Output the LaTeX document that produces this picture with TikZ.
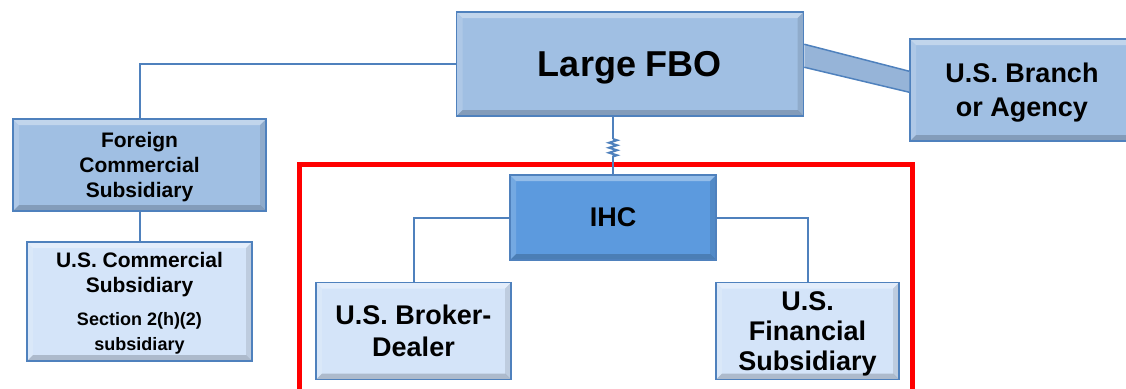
\documentclass[tikz,border=0pt]{standalone}
\usepackage{fontspec}
\setmainfont{Liberation Sans}
\usetikzlibrary{decorations.pathmorphing}
\definecolor{boxline}{RGB}{79,129,189}
\definecolor{darkfill}{RGB}{160,191,227}
\definecolor{bandfill}{RGB}{150,180,216}
\definecolor{ihcfill}{RGB}{92,154,222}
\definecolor{lightfill}{RGB}{212,228,249}
\definecolor{framered}{RGB}{255,0,0}
\tikzset{
  bevel/.style={path picture={
      \fill[white,opacity=0.35] (path picture bounding box.north west) -- (path picture bounding box.north east)
        -- ([shift={(-6pt,-6pt)}]path picture bounding box.north east) -- ([shift={(6pt,-6pt)}]path picture bounding box.north west) -- cycle;
      \fill[white,opacity=0.15] (path picture bounding box.north west) -- ([shift={(6pt,-6pt)}]path picture bounding box.north west)
        -- ([shift={(6pt,6pt)}]path picture bounding box.south west) -- (path picture bounding box.south west) -- cycle;
      \fill[black,opacity=0.18] (path picture bounding box.south west) -- (path picture bounding box.south east)
        -- ([shift={(-6pt,6pt)}]path picture bounding box.south east) -- ([shift={(6pt,6pt)}]path picture bounding box.south west) -- cycle;
      \fill[black,opacity=0.10] (path picture bounding box.north east) -- ([shift={(-6pt,-6pt)}]path picture bounding box.north east)
        -- ([shift={(-6pt,6pt)}]path picture bounding box.south east) -- (path picture bounding box.south east) -- cycle;
  }},
  darkbox/.style={draw=boxline,line width=1.5pt,fill=darkfill,bevel,align=center,inner sep=0pt,text depth=0pt},
  ihcbox/.style={draw=boxline,line width=1.5pt,fill=ihcfill,bevel,align=center,inner sep=0pt},
  lightbox/.style={draw=boxline,line width=1.5pt,fill=lightfill,bevel,align=center,inner sep=0pt,text depth=0pt},
  link/.style={draw=boxline,line width=2pt},
}
\newcommand{\bigtext}{\bfseries\fontsize{27}{31}\selectfont}
\newcommand{\midtext}{\bfseries\fontsize{21}{25}\selectfont}
\begin{document}
\begin{tikzpicture}[x=1pt,y=-1pt]
    \useasboundingbox (0,0) rectangle (1126,388);
    \clip (0,0) rectangle (1126,388);
    %% Red frame round the IHC
    \draw[framered,line width=5pt] (299,400) -- (299,164) -- (912,164) -- (912,400);
    %% Top level
    \node[darkbox,minimum width=347,minimum height=104,font=\bfseries\fontsize{36}{40}\selectfont] (fbo) at (630,64) {Large FBO};
    \node[darkbox,minimum width=224,minimum height=102,font=\bfseries\fontsize{27}{34}\selectfont] (branch) at (1022,90)
        {U.S. Branch\\ or Agency};
    \fill[bandfill] ([yshift=-33pt]fbo.north east) -- ([yshift=-33pt]branch.north west)
        -- ([yshift=-54pt]branch.north west) -- ([yshift=-56pt]fbo.north east) -- cycle;
    \draw[link,line width=1.5pt] ([yshift=-33pt]fbo.north east) -- ([yshift=-33pt]branch.north west);
    \draw[link,line width=1.5pt] ([yshift=-56pt]fbo.north east) -- ([yshift=-54pt]branch.north west);
    %% Commercial side
    \node[darkbox,minimum width=253,minimum height=92,font=\midtext] (foreign) at (139.5,165)
        {Foreign\\ Commercial\\ Subsidiary};
    \node[lightbox,minimum width=225,minimum height=119,font=\midtext] (uscomm) at (139.5,301.5)
        {U.S. Commercial\\ Subsidiary\\[8pt]
         \fontsize{18}{21}\selectfont Section 2(h)(2)\\ \fontsize{18}{21}\selectfont subsidiary};
    \draw[link] (fbo.west) -| (foreign.north);
    \draw[link] (foreign) -- (uscomm);
    %% IHC side
    \node[ihcbox,minimum width=206,minimum height=85,font=\bigtext] (ihc) at (613,217.5) {IHC};
    \node[lightbox,minimum width=195,minimum height=97,font=\bfseries\fontsize{27}{32}\selectfont] (broker) at (413.5,331)
        {U.S. Broker-\\ Dealer};
    \node[lightbox,minimum width=183,minimum height=97,font=\bfseries\fontsize{27}{30}\selectfont] (financial) at (807.5,331)
        {U.S.\\ Financial\\ Subsidiary};
    \coordinate (zigtop) at (613,139);
    \coordinate (zigbot) at (613,157);
    \draw[link] (fbo.south -| ihc.north) -- (zigtop);
    \draw[link,decorate,decoration={zigzag,segment length=5pt,amplitude=4pt}] (zigtop) -- (zigbot);
    \draw[link] (zigbot) -- (ihc.north);
    \draw[link] (ihc.west) -| (broker.north);
    \draw[link] (ihc.east) -| (financial.north);
\end{tikzpicture}
\end{document}
